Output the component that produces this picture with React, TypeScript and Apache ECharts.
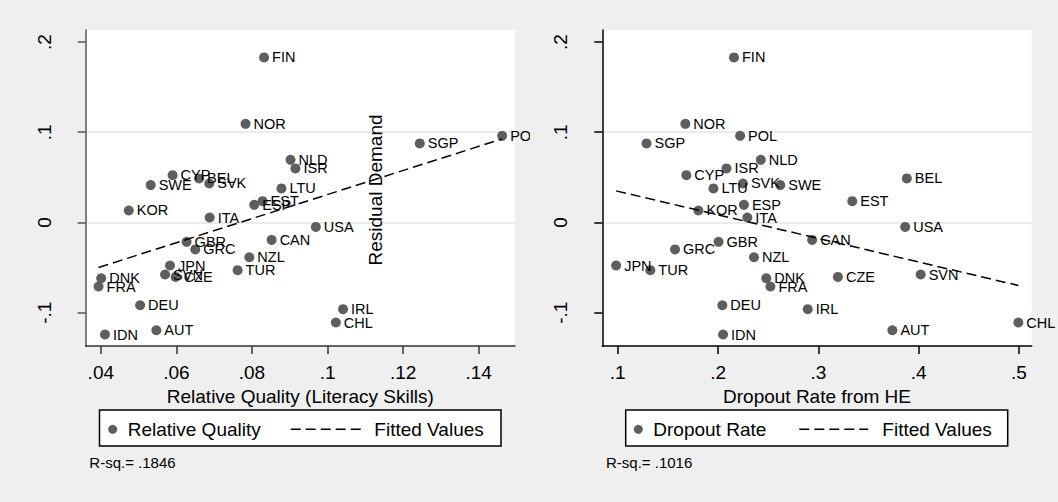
import React, { useEffect, useRef } from "react";
import * as echarts from "echarts";

// ---- data ----
const countries = ["FIN","NOR","SGP","POL","NLD","ISR","CYP","BEL","SWE","SVK","LTU","KOR","ITA","EST","ESP","USA","CAN","GBR","GRC","NZL","JPN","TUR","SVN","CZE","DNK","FRA","DEU","IRL","CHL","AUT","IDN"];
const residualDemand = [0.1829,0.1093,0.0876,0.0960,0.0694,0.0599,0.0524,0.0488,0.0414,0.0432,0.0377,0.0133,0.0055,0.0236,0.0195,-0.0049,-0.0193,-0.0215,-0.0299,-0.0385,-0.0477,-0.0529,-0.0577,-0.0603,-0.0618,-0.0710,-0.0917,-0.0961,-0.1109,-0.1194,-0.1242];
const relativeQuality = [0.0832,0.0783,0.1244,0.1462,0.0902,0.0915,0.0590,0.0660,0.0532,0.0687,0.0878,0.0474,0.0688,0.0828,0.0806,0.0969,0.0852,0.0627,0.0650,0.0793,0.0583,0.0762,0.0570,0.0598,0.0401,0.0394,0.0504,0.1041,0.1022,0.0547,0.0411];
const dropoutRate = [0.2159,0.1674,0.1287,0.2220,0.2426,0.2084,0.1684,0.3882,0.2620,0.2248,0.1954,0.1804,0.2292,0.3338,0.2258,0.3866,0.2938,0.2005,0.1571,0.2358,0.0984,0.1325,0.4020,0.3195,0.2481,0.2522,0.2043,0.2894,0.4994,0.3738,0.2050];

const qualityFitX = [0.0394, 0.1462];
const qualityFitY = [-0.0499, 0.0926];
const dropoutFitX = [0.0984, 0.4994];
const dropoutFitY = [0.0350, -0.0698];

const qualityTicks = [0.04, 0.06, 0.08, 0.1, 0.12, 0.14];
const dropoutTicks = [0.1, 0.2, 0.3, 0.4, 0.5];
const residualTicks = [-0.1, 0, 0.1, 0.2];

const rsqQuality = "R-sq.= .1846";
const rsqDropout = "R-sq.= .1016";

// ---- style ----
const FONT = "'Liberation Sans', Arial, Helvetica, sans-serif";
const BG = "#efefef";
const MARK = "#5e5e5e";

const fmt = (v: number) => {
  if (Math.abs(v) < 1e-9) return "0";
  const s = String(+v.toFixed(3));
  return s.replace(/^(-?)0\./, "$1.");
};

function xAxisCfg(gridIndex: number, min: number, max: number, ticks: number[], name: string, axisColor: string) {
  return {
    type: "value",
    gridIndex,
    min,
    max,
    name,
    nameLocation: "middle",
    nameGap: 34,
    nameTextStyle: { fontFamily: FONT, fontSize: 19, color: "#000" },
    axisLine: { show: true, onZero: false, lineStyle: { color: axisColor, width: 1.5 } },
    axisTick: { show: true, inside: false, length: 8, customValues: ticks, lineStyle: { color: axisColor, width: 1.5 } },
    axisLabel: { customValues: ticks, margin: 17, fontFamily: FONT, fontSize: 19, color: "#000", formatter: fmt },
    splitLine: { show: false },
  };
}

function yAxisCfg(gridIndex: number, axisColor: string) {
  return {
    type: "value",
    gridIndex,
    min: -0.1369,
    max: 0.2133,
    axisLine: { show: true, onZero: false, lineStyle: { color: axisColor, width: 1.5 } },
    axisTick: { show: true, inside: false, length: 8, customValues: residualTicks, lineStyle: { color: axisColor, width: 1.5 } },
    axisLabel: { customValues: residualTicks, rotate: 90, margin: 32, fontFamily: FONT, fontSize: 19, color: "#000", formatter: fmt },
    splitLine: { show: true, showMinLine: false, showMaxLine: false, lineStyle: { color: "#e4e4e4", width: 1.5 } },
  };
}

function scatterSeries(name: string, xs: number[], axisIndex: number) {
  return {
    name,
    type: "scatter",
    xAxisIndex: axisIndex,
    yAxisIndex: axisIndex,
    symbol: "circle",
    symbolSize: 10,
    itemStyle: { color: MARK, opacity: 1 },
    label: {
      show: true,
      position: "right",
      distance: 3,
      formatter: "{b}",
      fontFamily: FONT,
      fontSize: 14.5,
      color: "#000",
    },
    data: countries.map((c, i) => ({ name: c, value: [xs[i], residualDemand[i]] })),
    z: 3,
  };
}

function fitSeries(xs: number[], ys: number[], axisIndex: number) {
  return {
    name: "Fitted Values",
    type: "line",
    xAxisIndex: axisIndex,
    yAxisIndex: axisIndex,
    symbol: "none",
    lineStyle: { color: "#000", width: 1.5, type: [10, 5] },
    data: xs.map((x, i) => [x, ys[i]]),
    z: 4,
  };
}

function legendGroup(x0: number, x1: number, dotX: number, label1: string, dashX0: number, dashX1: number, label2X: number) {
  const cy = 429.3;
  return [
    { type: "rect", shape: { x: x0, y: 410, width: x1 - x0, height: 36 }, style: { fill: "#fff", stroke: "#000", lineWidth: 1.5 }, z: 50 },
    { type: "circle", shape: { cx: dotX, cy, r: 4.5 }, style: { fill: MARK }, z: 51 },
    { type: "text", x: dotX + 15, y: cy, style: { text: label1, fontFamily: FONT, fontSize: 19, fill: "#000", align: "left", verticalAlign: "middle" }, z: 51 },
    { type: "line", shape: { x1: dashX0, y1: cy, x2: dashX1, y2: cy }, style: { stroke: "#000", lineWidth: 1.5, lineDash: [10, 5] }, z: 51 },
    { type: "text", x: label2X, y: cy, style: { text: "Fitted Values", fontFamily: FONT, fontSize: 19, fill: "#000", align: "left", verticalAlign: "middle" }, z: 51 },
  ];
}

export default function App() {
  const ref = useRef<HTMLDivElement>(null);

  useEffect(() => {
    document.body.style.margin = "0";
    if (!ref.current) return;
    const chart = echarts.init(ref.current, undefined, { renderer: "svg", width: 1058, height: 502 });
    const option = {
      animation: false,
      backgroundColor: BG,
      tooltip: { show: false },
      grid: [
        { left: 85.7, top: 30, width: 429.3, height: 316, show: true, backgroundColor: "#fff", borderWidth: 0, containLabel: false },
        { left: 602.3, top: 30, width: 429.4, height: 316, show: true, backgroundColor: "#fff", borderWidth: 0, containLabel: false },
      ],
      xAxis: [
        xAxisCfg(0, 0.036, 0.1496, qualityTicks, "Relative Quality (Literacy Skills)", "#333"),
        xAxisCfg(1, 0.0846, 0.5127, dropoutTicks, "Dropout Rate from HE", "#000"),
      ],
      yAxis: [yAxisCfg(0, "#555"), yAxisCfg(1, "#000")],
      series: [
        scatterSeries("Relative Quality", relativeQuality, 0),
        fitSeries(qualityFitX, qualityFitY, 0),
        scatterSeries("Dropout Rate", dropoutRate, 1),
        fitSeries(dropoutFitX, dropoutFitY, 1),
      ],
      graphic: [
        // left sub-graph boundary clips the POL label
        { type: "rect", shape: { x: 530, y: 124, width: 24, height: 22 }, style: { fill: BG }, z: 100 },
        {
          type: "text",
          x: 375.7,
          y: 190,
          rotation: Math.PI / 2,
          style: { text: "Residual Demand", fontFamily: FONT, fontSize: 19, fill: "#000", align: "center", verticalAlign: "middle" },
          z: 60,
        },
        ...legendGroup(99.5, 501, 112.7, "Relative Quality", 290.7, 360.7, 374.3),
        ...legendGroup(625.7, 1007.7, 638.3, "Dropout Rate", 799.3, 868.3, 882.3),
        { type: "text", x: 89.3, y: 462.7, style: { text: rsqQuality, fontFamily: FONT, fontSize: 15, fill: "#000", align: "left", verticalAlign: "middle" }, z: 51 },
        { type: "text", x: 606, y: 462.7, style: { text: rsqDropout, fontFamily: FONT, fontSize: 15, fill: "#000", align: "left", verticalAlign: "middle" }, z: 51 },
      ],
    };
    chart.setOption(option as any);
    return () => chart.dispose();
  }, []);

  return (
    <div style={{ position: "fixed", left: 0, top: 0, width: 1058, height: 502, background: BG, overflow: "hidden" }}>
      <div ref={ref} style={{ width: 1058, height: 502 }} />
    </div>
  );
}
